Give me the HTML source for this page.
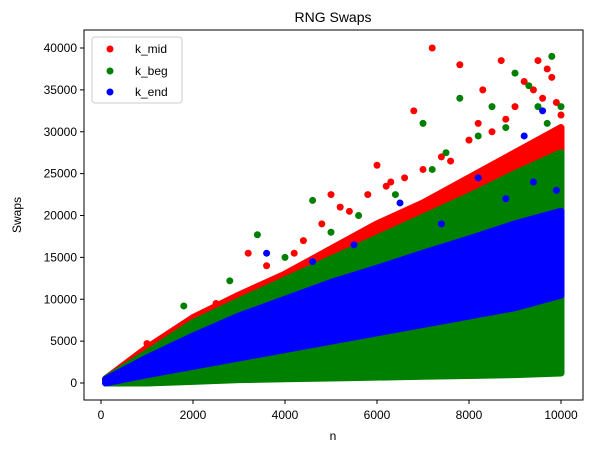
<!DOCTYPE html>
<html><head><meta charset="utf-8"><style>
body{margin:0;background:#fff}
svg{font-family:"Liberation Sans","DejaVu Sans",sans-serif;display:block}
</style></head><body>
<svg id="chart" width="589" height="453">
<text x="333" y="22" font-size="14" text-anchor="middle">RNG Swaps</text>
<g id="plot"></g>
<rect x="84" y="30" width="499" height="370" fill="none" stroke="#000" stroke-width="1"/>
<g id="xt"></g>
<g id="yt"></g>
<text x="333" y="440" font-size="12" text-anchor="middle">n</text>
<text x="21" y="215" font-size="12" text-anchor="middle" transform="rotate(-90 21 215)">Swaps</text>
<g>
<rect x="92" y="37" width="90" height="66" rx="3" fill="#fff" fill-opacity="0.8" stroke="#ccc"/>
<g><circle cx="110" cy="49" r="3.5" fill="red"/><text x="135" y="53" font-size="12">k_mid</text></g>
<g><circle cx="110" cy="71" r="3.5" fill="green"/><text x="135" y="75" font-size="12">k_beg</text></g>
<g><circle cx="110" cy="92" r="3.5" fill="blue"/><text x="135" y="96" font-size="12">k_end</text></g>
</g>
</svg>
<script>
const nVals=[100,1000,2000,3000,4000,5000,6000,7000,8000,9000,10000];
const midLo=[0,400,800,1200,1600,2000,2500,3000,3500,4000,4500];
const midHi=[500,4200,7800,10500,13000,16000,19000,21500,24500,27500,30500];
const begLo=[0,0,200,400,500,600,700,800,900,1000,1200];
const begHi=[500,3600,7200,9800,12300,14800,17300,19800,22300,25000,27500];
const endLo=[0,1000,2000,3000,4000,5000,6000,7000,8000,9000,10500];
const endHi=[400,3000,5600,8000,10000,12000,13700,15500,17200,19000,20500];
const midOutN=[7200,7800,8700,9500,9700,6000,6800,3200,1000,5000,8300,2500,3600,4200,4800,5400,5800,6300,6600,7000,7400,7600,8000,8200,8500,8800,9000,9200,9400,9600,9800,9900,10000,4400,5200,6200];
const midOutV=[40000,38000,38500,38500,37500,26000,32500,15500,4700,22500,35000,9500,14000,15500,19000,20500,22500,24000,24500,25500,27000,26500,29000,31000,30000,31500,33000,36000,35000,34000,36500,33500,32000,17000,21000,23500];
const begOutN=[9800,9000,7800,3400,4600,7000,8500,9300,1800,2800,4000,5600,6400,7200,7500,8200,8800,9500,9700,10000,5000];
const begOutV=[39000,37000,34000,17700,21800,31000,33000,35500,9200,12200,15000,20000,22500,25500,27500,29500,30500,33000,31000,33000,18000];
const endOutN=[9200,9600,6500,1800,3600,8200,2200,4600,7400,8800,9400,9900,5500];
const endOutV=[29500,32500,21500,4800,15500,24500,5700,14500,19000,22000,24000,23000,16500];
const yTicks=[0,5000,10000,15000,20000,25000,30000,35000,40000];
const xTicks=[0,2000,4000,6000,8000,10000];
const X=v=>101+v*0.046, Y=v=>383-v*0.008375;
const NS='http://www.w3.org/2000/svg';
const plot=document.getElementById('plot');
function band(lo,hi,col,name){
  const pts=nVals.map((n,i)=>X(n)+','+Y(hi[i])).concat(nVals.map((n,i)=>X(n)+','+Y(lo[i])).reverse());
  const p=document.createElementNS(NS,'polygon');
  p.setAttribute('points',pts.join(' '));
  p.setAttribute('fill',col);p.setAttribute('stroke',col);
  p.setAttribute('stroke-width','7');p.setAttribute('stroke-linejoin','round');
  
  
  plot.appendChild(p);
}
function pts(ns,vs,col,name){
  ns.forEach((n,i)=>{
    const c=document.createElementNS(NS,'circle');
    c.setAttribute('cx',X(n));c.setAttribute('cy',Y(vs[i]));c.setAttribute('r',3.5);c.setAttribute('fill',col);
    
    
    plot.appendChild(c);
  });
}
band(midLo,midHi,'red','k-mid-cloud');pts(midOutN,midOutV,'red','k-mid-point');
band(begLo,begHi,'green','k-beg-cloud');pts(begOutN,begOutV,'green','k-beg-point');
band(endLo,endHi,'blue','k-end-cloud');pts(endOutN,endOutV,'blue','k-end-point');
const xt=document.getElementById('xt'),yt=document.getElementById('yt');
xTicks.forEach(t=>{
  const g=document.createElementNS(NS,'g');
  g.innerHTML=`<line x1="${X(t)}" x2="${X(t)}" y1="400" y2="404" stroke="#000"/><text x="${X(t)}" y="419" font-size="12" text-anchor="middle">${t}</text>`;
  
  
  xt.appendChild(g);
});
yTicks.forEach(t=>{
  const g=document.createElementNS(NS,'g');
  g.innerHTML=`<line x1="80" x2="84" y1="${Y(t)}" y2="${Y(t)}" stroke="#000"/><text x="77" y="${Y(t)+4}" font-size="12" text-anchor="end">${t}</text>`;
  
  
  yt.appendChild(g);
});
</script>
</body></html>
